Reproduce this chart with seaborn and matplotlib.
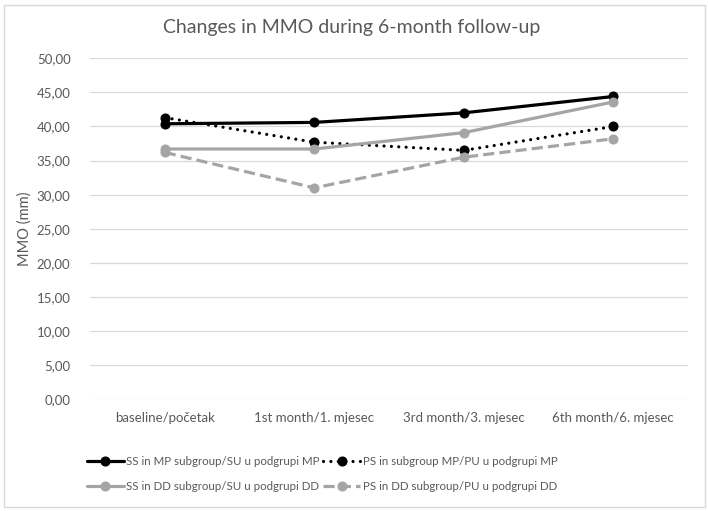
import matplotlib
matplotlib.use("Agg")
import matplotlib.pyplot as plt
import seaborn as sns
import pandas as pd
from matplotlib.patches import Rectangle

categories = ["baseline/početak", "1st month/1. mjesec", "3rd month/3. mjesec", "6th month/6. mjesec"]
ss_mp = [40.4, 40.6, 42.0, 44.4]
ps_mp = [41.3, 37.7, 36.5, 40.0]
ss_dd = [36.7, 36.7, 39.1, 43.6]
ps_dd = [36.2, 31.0, 35.5, 38.2]
series_names = ["SS in MP subgroup/SU u podgrupi MP", "PS in subgroup MP/PU u podgrupi MP",
                "SS in DD subgroup/SU u podgrupi DD", "PS in DD subgroup/PU u podgrupi DD"]
y_ticks = [0, 5, 10, 15, 20, 25, 30, 35, 40, 45, 50]

sns.set_theme(style="white")
plt.rcParams['font.family'] = ['Lato', 'DejaVu Sans']
txt = "#595959"

rows = []
for name, vals in zip(series_names, [ss_mp, ps_mp, ss_dd, ps_dd]):
    for i, v in enumerate(vals):
        rows.append({"series": name, "idx": i, "value": v})
df = pd.DataFrame(rows)

fig = plt.figure(figsize=(7.08, 5.11), dpi=100)
ax = fig.add_axes([90/708, 1-399.3/511, (688-90)/708, (399.3-58.3)/511])

styles = {
    series_names[0]: dict(color="#000000", linestyle="-", cap="butt"),
    series_names[1]: dict(color="#000000", linestyle=(0, (0.01, 2.3)), cap="round"),
    series_names[2]: dict(color="#A5A5A5", linestyle="-", cap="butt"),
    series_names[3]: dict(color="#A5A5A5", linestyle=(0, (3.5, 1.6)), cap="butt"),
}
handles = {}
for name in series_names:
    sub = df[df["series"] == name]
    st = styles[name]
    sns.lineplot(data=sub, x="idx", y="value", ax=ax, color=st["color"], linewidth=2.3,
                 marker="o", markersize=6.5, markeredgecolor=st["color"], sort=False,
                 legend=False)
    ln = ax.lines[-1]
    ln.set_linestyle(st["linestyle"])
    ln.set_dash_capstyle(st["cap"])
    handles[name] = ln

ax.set_xlim(-0.5, 3.5)
ax.set_ylim(0, 50)
ax.set_yticks(y_ticks)
ax.set_yticklabels([f"{v:.2f}".replace(".", ",") for v in y_ticks], color=txt, fontsize=9.5)
ax.set_xticks(range(len(categories)))
ax.set_xticklabels(categories, color=txt, fontsize=9.5)
ax.tick_params(axis="y", length=0, pad=14)
ax.tick_params(axis="x", length=0, pad=9)
ax.grid(axis="y", color="#D9D9D9", linewidth=0.9)
ax.grid(axis="x", visible=False)
ax.set_axisbelow(True)
for s in ax.spines.values():
    s.set_visible(False)
ax.set_xlabel("")
ax.set_ylabel("MMO (mm)", color=txt, fontsize=10.5)
ax.yaxis.set_label_coords(-58/598, 0.5)

fig.text(352/708, 1-27/511, "Changes in MMO during 6-month follow-up", ha="center", va="center",
         fontsize=14, color=txt)

order = [series_names[0], series_names[2], series_names[1], series_names[3]]
leg = fig.legend([handles[n] for n in order], order, ncol=2, loc="center",
                 bbox_to_anchor=(322/708, 1-474/511), frameon=False, fontsize=8.3,
                 handlelength=3.2, handletextpad=0.2, columnspacing=0.35, labelspacing=1.2,
                 labelcolor=txt)

fig.patches.append(Rectangle((4/708, 4/511), 701/708, 502/511, transform=fig.transFigure,
                             fill=False, edgecolor="#D9D9D9", linewidth=1.0))

fig.savefig("out.png", dpi=100, facecolor="white")
